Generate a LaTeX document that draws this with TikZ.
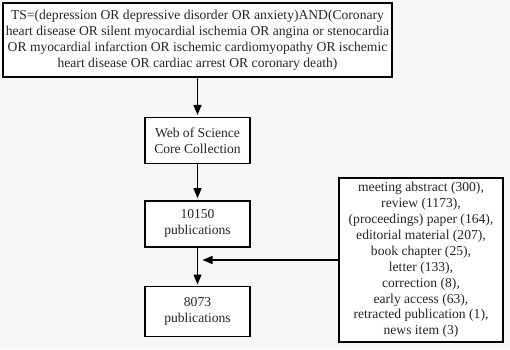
\documentclass[tikz,border=0pt]{standalone}
\usepackage{fontspec}
\setmainfont{Liberation Serif}
\usepackage{tikz}
\usetikzlibrary{arrows.meta, positioning, calc}
\tikzset{
  query/.style={
    rectangle,
    minimum width=389pt, minimum height=74pt,
    draw, line width=1.8pt, fill=white, align=center, inner sep=2pt,
  },
  stepbox/.style={
    rectangle,
    minimum width=105pt, minimum height=46pt,
    draw, line width=1.3pt, fill=white, align=center,
  },
  excluded/.style={
    rectangle,
    minimum width=164pt, minimum height=164pt,
    draw, line width=1.3pt, fill=white, align=center, inner sep=2pt,
  },
  arrow/.style={-{Triangle[length=10pt, width=8pt]}, line width=1.3pt},
}

\begin{document}
\begin{tikzpicture}[every node/.style={font=\fontsize{13.6}{15.9}\selectfont, text=black!85}]
  \useasboundingbox[fill=black!3] (0,0) rectangle (510pt,-349pt);

  \node[query] (query) at (197.5pt,-40pt) {TS=(depression OR depressive disorder OR anxiety)AND(Coronary\\
    heart disease OR silent myocardial ischemia OR angina or stenocardia\\
    OR myocardial infarction OR ischemic cardiomyopathy OR ischemic\\
    heart disease OR cardiac arrest OR coronary death)};
  \node[stepbox, below=39pt of query] (wos) {Web of Science\\Core Collection};
  \node[stepbox, below=36pt of wos] (found) {10150\\publications};
  \node[stepbox, below=38pt of found, minimum height=50pt] (final) {8073\\publications};
  \node[excluded] (types) at (421pt,-260pt) {meeting abstract (300),\\
    review (1173),\\
    (proceedings) paper (164),\\
    editorial material (207),\\
    book chapter (25),\\
    letter (133),\\
    correction (8),\\
    early access (63),\\
    retracted publication (1),\\
    news item (3)};

  \draw[arrow, shorten >=2pt] (query) -- (wos);
  \draw[arrow, shorten >=2pt] (wos) -- (found);
  \draw[arrow, shorten >=1pt] (found) -- (final);
  \draw[arrow, shorten >=5pt] (types.west) -- (types.west -| found.south);
\end{tikzpicture}
\end{document}
